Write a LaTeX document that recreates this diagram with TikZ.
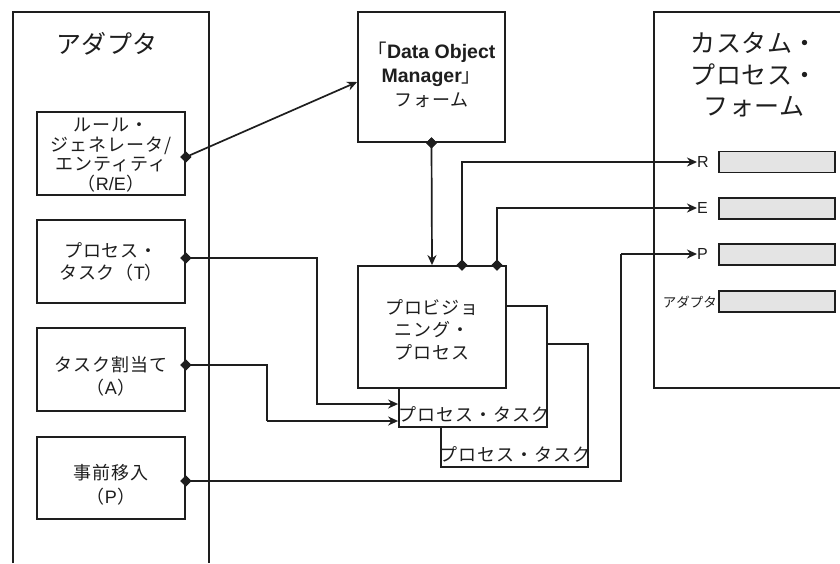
\documentclass[tikz,border=0pt]{standalone}
\usepackage{fontspec}
\setmainfont{Liberation Sans}
\newfontfamily\jp{Noto Sans CJK JP}[LetterSpace=5]
\newfontfamily\jpt{Noto Sans CJK JP}[LetterSpace=2]
\newfontfamily\jpn{Noto Sans CJK JP}
\usetikzlibrary{arrows.meta,shapes.geometric}
\definecolor{ink}{HTML}{1E1E1E}
\definecolor{field}{HTML}{E4E4E4}
\tikzset{
  panel/.style={draw=ink, line width=1.8pt},
  box/.style={draw=ink, line width=1.8pt, fill=white, inner sep=0pt},
  txt/.style={align=center, inner sep=0pt, text=ink, font={\jp\fontsize{18}{19.5}\selectfont}},
  title/.style={align=center, inner sep=0pt, text=ink, font={\jpt\fontsize{25}{31.5}\selectfont}},
  lbl/.style={inner sep=0pt, text=ink, font={\fontsize{16}{16}\selectfont}},
  dot/.style={diamond, fill=ink, inner sep=0pt, minimum size=11pt},
  conn/.style={draw=ink, line width=1.7pt},
  tip/.style={-{Stealth[length=10pt,width=9pt]}},
  fieldbox/.style={draw=ink, line width=1.7pt, fill=field, inner sep=0pt, minimum width=116pt, minimum height=21pt}
}
\newcommand{\lat}[1]{{\rmfamily #1}}
\begin{document}
\begin{tikzpicture}[x=1pt,y=-1pt]
\useasboundingbox (0,0) rectangle (840,563);
\fill[white] (0,0) rectangle (840,563);

% adapter panel (runs off the bottom edge)
\draw[panel] (13,563) -- (13,12) -- (209,12) -- (209,563);
\node[title] (adtitle) at (107,44) {アダプタ};

% custom process form panel (runs off the right edge)
\draw[panel] (840,12) -- (654,12) -- (654,388) -- (840,388);
\node[title] (cftitle) at (754,75) {カスタム・\\プロセス・\\フォーム};

% adapter components
\node[box, minimum width=148pt, minimum height=83pt] (re) at (111,153.5) {};
\node[txt] at (111,155) {ルール・\\ジェネレータ/\\エンティティ\\（\lat{R/E}）};
\node[box, minimum width=148pt, minimum height=83pt] (t) at (111,261.5) {};
\node[txt, font={\jp\fontsize{18}{22}\selectfont}] at (111,261.5) {プロセス・\\タスク（\lat{T}）};
\node[box, minimum width=148pt, minimum height=83pt] (a) at (111,369.5) {};
\node[txt, font={\jp\fontsize{18}{23}\selectfont}] at (111,376.5) {タスク割当て\\（\lat{A}）};
\node[box, minimum width=148pt, minimum height=82pt] (p) at (111,478) {};
\node[txt, font={\jp\fontsize{18}{24}\selectfont}] at (111,485) {事前移入\\（\lat{P}）};

% Data Object Manager form
\node[box, minimum width=147pt, minimum height=130pt] (dom) at (431.5,77) {};
\node[align=center, inner sep=0pt, text=ink, font={\fontsize{19.5}{24}\selectfont}] at (431.5,75)
  {{\jpn 「}\textbf{Data Object}\\\textbf{Manager}{\jpn 」}\\{\jp\fontsize{18}{19}\selectfont フォーム}};

% provisioning process with its stacked process tasks
\node[box, minimum width=147pt, minimum height=123pt] (pt2) at (514.5,405.5) {};
\node[txt, anchor=south] at (515,462) {プロセス・タスク};
\node[box, minimum width=148pt, minimum height=121pt] (pt1) at (473,366.5) {};
\node[txt, anchor=south] at (474,422) {プロセス・タスク};
\node[box, minimum width=148pt, minimum height=122pt] (prov) at (432,327) {};
\node[txt, font={\jp\fontsize{18}{22.5}\selectfont}] at (432,329.5) {プロビジョ\\ニング・\\プロセス};

% form fields
\node[fieldbox] (fr) at (777,162) {};
\node[fieldbox] (fe) at (777,208.5) {};
\node[fieldbox] (fp) at (777,254.5) {};
\node[fieldbox] (fa) at (777,301.5) {};
\node[lbl, anchor=west] (lr) at (697,162) {R};
\node[lbl, anchor=west] (le) at (697,208) {E};
\node[lbl, anchor=west] (lp) at (697,254) {P};
\node[inner sep=0pt, text=ink, font={\jpn\fontsize{13.5}{13.5}\selectfont}, anchor=east] (la) at (717,302) {アダプタ};

% connector end points
\node[dot] (reD) at ([yshift=-3.5pt]re.east) {};
\node[dot] (tD) at ([yshift=3.5pt]t.east) {};
\node[dot] (aD) at ([yshift=4.5pt]a.east) {};
\node[dot] (pD) at ([yshift=-3pt]p.east) {};
\node[dot] (domD) at (dom.south) {};
\node[dot] (rD) at ([xshift=30pt]prov.north) {};
\node[dot] (eD) at ([xshift=65pt]prov.north) {};
\coordinate (tIn) at ([yshift=-37.5pt]pt1.west);
\coordinate (aIn) at ([yshift=-54.5pt]pt1.west);
\coordinate (aBend) at (267,421);
\coordinate (pBend) at (621,254);

% connectors
\draw[conn, tip] (reD.center) -- ([yshift=-5pt]dom.west);
\draw[conn, tip] (domD.center) -- (prov.north);
\draw[conn, tip] (tD.center) -| (317,404) -- (tIn);
\draw[conn] (aD.center) -| (aBend);
\draw[conn, line width=2.8pt, tip] (aBend) -- (aIn);
\draw[conn] (pD.center) -| (pBend);
\draw[conn, line width=2.8pt, tip] (pBend) -- (lp.west);
\draw[conn, tip] (rD.center) |- (lr.west);
\draw[conn, tip] (eD.center) |- (le.west);

% redraw dots above the lines
\foreach \d in {reD,tD,aD,pD,domD,rD,eD} \node[dot] at (\d) {};
\end{tikzpicture}
\end{document}
